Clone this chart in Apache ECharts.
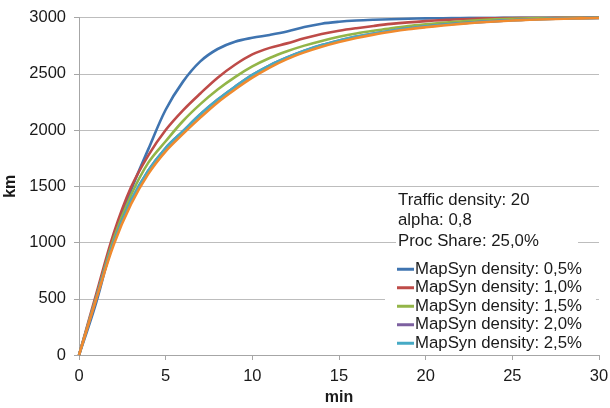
<!DOCTYPE html>
<html>
<head>
<meta charset="utf-8">
<script src="https://cdn.jsdelivr.net/npm/echarts@6/dist/echarts.min.js"></script>
<style>
html,body{margin:0;padding:0;background:#fff;}
#chart{width:610px;height:408px;}
</style>
</head>
<body>
<div id="chart"></div>
<script>
// time in minutes
var minutes = [0,1,2,3,4,5,6,7,8,9,10,11,12,13,14,15,16,17,18,19,20,21,22,23,24,25,26,27,28,29,30];
var seriesNames = ['MapSyn density: 0,5%','MapSyn density: 1,0%','MapSyn density: 1,5%','MapSyn density: 2,0%','MapSyn density: 2,5%','MapSyn density: 3,0%'];
var legendNames = ['MapSyn density: 0,5%','MapSyn density: 1,0%','MapSyn density: 1,5%','MapSyn density: 2,0%','MapSyn density: 2,5%'];
var density05 = [0,470,1035,1465,1830,2180,2430,2610,2720,2785,2820,2845,2875,2915,2945,2962,2973,2980,2985,2989,2992,2994,2996,2997,2998,2999,2999,3000,3000,3000,3000];
var density10 = [0,545,1080,1490,1775,2000,2175,2325,2465,2580,2672,2730,2770,2815,2853,2882,2905,2925,2943,2957,2968,2977,2985,2990,2994,2996,2997,2998,2999,3000,3000];
var density15 = [0,520,1035,1420,1710,1900,2080,2230,2360,2470,2565,2640,2700,2750,2792,2828,2858,2882,2905,2925,2940,2953,2965,2975,2983,2989,2993,2995,2997,2998,2999];
var density20 = [0,510,1000,1370,1640,1840,1990,2140,2270,2385,2490,2575,2645,2705,2755,2795,2830,2858,2882,2903,2920,2935,2948,2959,2968,2976,2982,2987,2991,2994,2996];
var density25 = [0,510,1000,1370,1640,1840,1990,2140,2270,2385,2490,2575,2645,2705,2755,2795,2830,2858,2882,2903,2920,2935,2948,2959,2968,2976,2982,2987,2991,2994,2996];
var density30 = [0,500,980,1340,1610,1810,1965,2110,2245,2360,2465,2555,2630,2690,2740,2782,2818,2848,2873,2895,2913,2929,2943,2955,2965,2973,2980,2985,2989,2992,2995];
var xTicks = [0,5,10,15,20,25,30];
var yTicks = [0,500,1000,1500,2000,2500,3000];
var annotationLines = ['Traffic density: 20','alpha: 0,8','Proc Share: 25,0%'];
var colors = ['#3F74B0','#BE4B48','#93B548','#7D60A0','#46AAC5','#F08A2E'];

var allValues = [density05,density10,density15,density20,density25,density30];
var FONT = '"Liberation Sans", Arial, sans-serif';

var series = allValues.map(function(vals, i){
  return {
    name: seriesNames[i],
    type: 'line',
    smooth: 0.35,
    showSymbol: false,
    symbol: 'none',
    data: minutes.map(function(t, j){ return [t, vals[j]]; }),
    lineStyle: {width: 2.6, color: colors[i]},
    itemStyle: {color: colors[i]},
    z: 2 + i
  };
});

function txt(s, y){
  return {type: 'text', x: 2, y: y, z: 101, style: {text: s, font: '16.8px ' + FONT, fill: '#1a1a1a', verticalAlign: 'middle'}};
}

var chart = echarts.init(document.getElementById('chart'), null, {renderer:'canvas'});
chart.setOption({
  animation: false,
  backgroundColor: '#ffffff',
  color: colors,
  textStyle: {fontFamily: FONT},
  grid: {left: 79, right: 11, top: 17.5, bottom: 53, containLabel: false, outerBoundsMode: 'none'},
  xAxis: {
    type: 'value', min: xTicks[0], max: xTicks[xTicks.length-1], interval: 5,
    name: 'min', nameLocation: 'middle', nameGap: 35,
    nameTextStyle: {fontFamily: FONT, fontSize: 16, fontWeight: 'bold', color: '#1a1a1a'},
    axisLine: {show: true, lineStyle: {color: '#A6A6A6', width: 1}},
    axisTick: {show: true, length: 5, lineStyle: {color: '#A6A6A6'}},
    axisLabel: {fontFamily: FONT, fontSize: 16.5, color: '#1a1a1a', margin: 13},
    splitLine: {show: false}
  },
  yAxis: {
    type: 'value', min: yTicks[0], max: yTicks[yTicks.length-1], interval: 500,
    name: 'km', nameLocation: 'middle', nameGap: 55, nameRotate: 90,
    nameTextStyle: {fontFamily: FONT, fontSize: 16, fontWeight: 'bold', color: '#1a1a1a'},
    axisLine: {show: true, lineStyle: {color: '#A6A6A6', width: 1}},
    axisTick: {show: true, length: 5, lineStyle: {color: '#A6A6A6'}},
    axisLabel: {fontFamily: FONT, fontSize: 16.5, color: '#1a1a1a', margin: 13, formatter: function(v){ return String(v); }},
    splitLine: {show: true, lineStyle: {color: '#BDBDBD', width: 1}}
  },
  legend: {
    data: legendNames,
    orient: 'vertical',
    left: 385, top: 258, z: 100,
    padding: [2, 14, 1, 12],
    backgroundColor: '#ffffff',
    itemWidth: 17, itemHeight: 3, itemGap: 0,
    icon: 'rect',
    textStyle: {fontFamily: FONT, fontSize: 16.8, color: '#1a1a1a', lineHeight: 18.5, padding: [0,0,0,-4]},
    selectedMode: false
  },
  graphic: [{
    type: 'group', left: 396, top: 189, z: 100,
    children: [
      {type: 'rect', z: 100, shape: {x: 0, y: 0, width: 182, height: 62}, style: {fill: '#ffffff'}},
      txt(annotationLines[0], 11),
      txt(annotationLines[1], 31.5),
      txt(annotationLines[2], 52)
    ]
  }],
  series: series
});
</script>
</body>
</html>
